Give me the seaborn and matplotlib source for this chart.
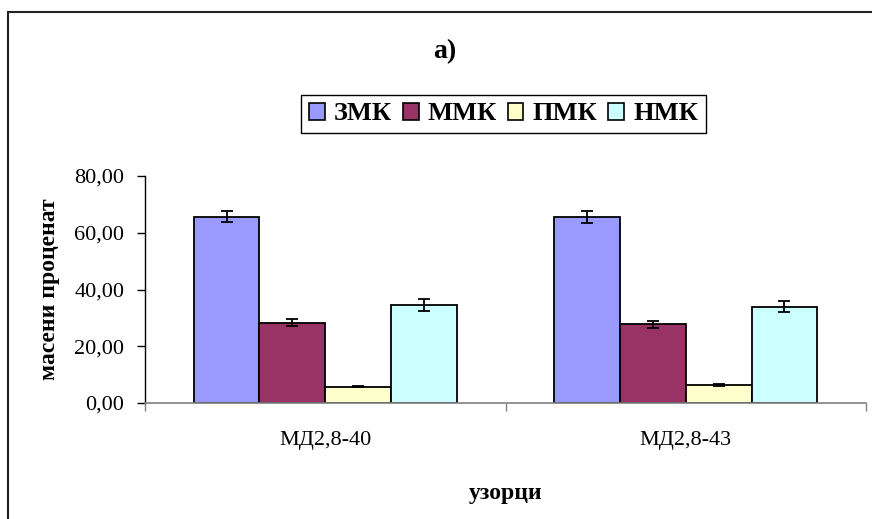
import matplotlib
matplotlib.use("Agg")
import matplotlib.pyplot as plt
import matplotlib.patches as mpatches
from matplotlib.ticker import FuncFormatter, FixedLocator
import seaborn as sns
import pandas as pd

# Samples and acid fractions
samples = ["МД2,8-40", "МД2,8-43"]
fractions = ["ЗМК", "ММК", "ПМК", "НМК"]

# Mass percentages per fraction (one value per sample)
zmk = [65.6, 65.6]
mmk = [28.3, 27.7]
pmk = [5.8, 6.3]
nmk = [34.5, 33.9]

# Standard deviations
zmk_err = [1.9, 2.0]
mmk_err = [1.2, 1.2]
pmk_err = [0.3, 0.3]
nmk_err = [2.0, 2.0]

colors = ["#9999FF", "#993366", "#FFFFCC", "#CCFFFF"]

values = [zmk, mmk, pmk, nmk]
errors = [zmk_err, mmk_err, pmk_err, nmk_err]
rows = []
for f, vals, errs in zip(fractions, values, errors):
    for s, v, e in zip(samples, vals, errs):
        rows.append({"узорак": s, "фракција": f, "вредност": v, "грешка": e})
df = pd.DataFrame(rows)

sns.set_style("white")
plt.rcParams["font.family"] = ["Liberation Serif", "DejaVu Serif"]
plt.rcParams.update({"text.color": "black", "axes.labelcolor": "black",
                     "xtick.color": "black", "ytick.color": "black"})

fig = plt.figure(figsize=(8.72, 5.19), dpi=100)
ax = fig.add_axes([145 / 872, 1 - 403 / 519, (866 - 145) / 872, (403 - 176) / 519])

sns.barplot(data=df, x="узорак", y="вредност", hue="фракција",
            order=samples, hue_order=fractions, palette=colors,
            width=0.73, saturation=1, edgecolor="black", linewidth=1.3,
            errorbar=None, ax=ax)

# Error bars placed on the centre of each drawn bar
for cont, f in zip(ax.containers, fractions):
    sub = df[df["фракција"] == f].set_index("узорак").loc[samples]
    xs = [p.get_x() + p.get_width() / 2 for p in cont.patches]
    ax.errorbar(xs, sub["вредност"].values, yerr=sub["грешка"].values,
                fmt="none", ecolor="black", elinewidth=1.3, capsize=4.5,
                capthick=1.3, zorder=5)

ax.set_ylim(0, 80)
ax.set_xlim(-0.5, 1.5)
ax.set_yticks([0, 20, 40, 60, 80])
ax.yaxis.set_major_formatter(FuncFormatter(lambda v, p: f"{v:.2f}".replace(".", ",")))
ax.tick_params(axis="y", direction="out", length=6, width=1, color="black",
               labelcolor="black", labelsize=16, pad=9, left=True)
ax.tick_params(axis="x", which="major", length=0, labelsize=16, pad=20,
               labelcolor="black")
ax.xaxis.set_minor_locator(FixedLocator([-0.5, 0.5, 1.5]))
ax.tick_params(axis="x", which="minor", direction="out", length=6, width=1,
               color="#808080", bottom=True)

for side in ["top", "right"]:
    ax.spines[side].set_visible(False)
ax.spines["left"].set_color("black")
ax.spines["left"].set_linewidth(1.0)
ax.spines["bottom"].set_color("#808080")
ax.spines["bottom"].set_linewidth(1.2)

ax.set_ylabel("масени проценат", fontsize=17, fontweight="bold", labelpad=10,
              color="black")
ax.set_xlabel("узорци", fontsize=17, fontweight="bold", labelpad=24,
              color="black")

# Legend in a single row above the plot
handles = [mpatches.Patch(facecolor=c, edgecolor="black", linewidth=1.2) for c in colors]
leg = ax.legend(handles, fractions, ncol=4, loc="center",
                bbox_to_anchor=(503.5 / 872, 1 - 114 / 519), bbox_transform=fig.transFigure,
                prop={"family": "Liberation Serif", "weight": "bold", "size": 19},
                frameon=True, fancybox=False, edgecolor="black", framealpha=1,
                handlelength=0.6, handleheight=0.6, handletextpad=0.35,
                columnspacing=0.4, borderpad=0.3, labelcolor="black")
leg.get_frame().set_linewidth(1.0)

fig.text(445 / 872, 1 - 52 / 519, "а)", ha="center", va="center",
         fontsize=20, fontweight="bold", color="black")

# Chart-area frame (left and top edges visible)
fig.add_artist(mpatches.Rectangle((8 / 872, -0.2), 1.2, 1 - 12 / 519 + 0.2,
                                  transform=fig.transFigure, fill=False,
                                  edgecolor="#222222", linewidth=1.5, clip_on=False))

fig.savefig("out.png", dpi=100)
